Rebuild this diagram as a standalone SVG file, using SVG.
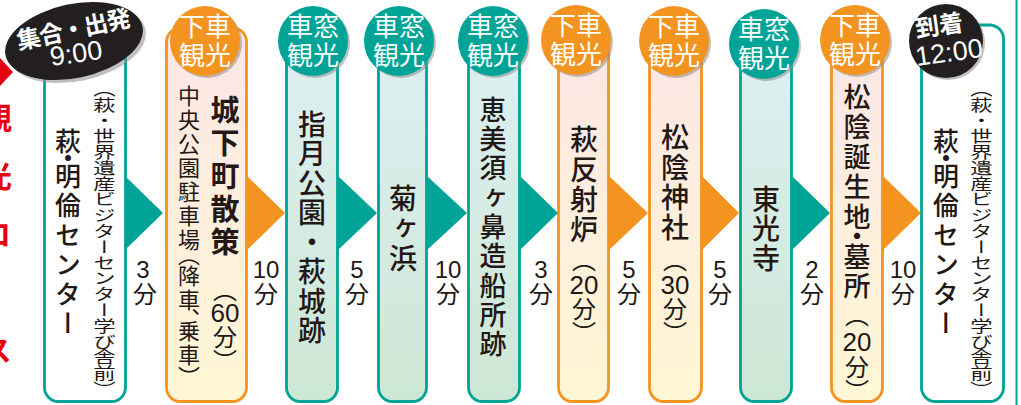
<svg xmlns="http://www.w3.org/2000/svg" width="1021" height="405" viewBox="0 0 1021 405">
<defs>
<linearGradient id="gO" x1="0" y1="0" x2="0" y2="1">
<stop offset="0" stop-color="#fce6e6"/><stop offset="1" stop-color="#fff7d4"/>
</linearGradient>
<linearGradient id="gT" x1="0" y1="0" x2="0" y2="1">
<stop offset="0" stop-color="#ddf0f3"/><stop offset="1" stop-color="#cde7d5"/>
</linearGradient>
</defs>
<style>
.t{font-family:'Noto Sans CJK JP','Noto Sans CJK SC',sans-serif;fill:#231815}
.n{font-family:'Liberation Sans','Noto Sans CJK JP',sans-serif;fill:#231815}
.v{writing-mode:vertical-rl}
.w{fill:#fff}
.b{font-weight:700}
.m{font-weight:500}
.colT{stroke:#00a497;stroke-width:2.8}
.colO{stroke:#f39420;stroke-width:2.8}
.sh{fill:#8c8c8c;opacity:.55}
.cT{fill:#00a497}
.cO{fill:#f39420}
.ct{font-size:26px;text-anchor:middle}
.lab{font-size:24px;text-anchor:middle}
.aT{fill:#00a497}
.aO{fill:#f39420}
</style>

<g id="title-edge">
<polygon points="-10,58 0,58 13,72 0,86 -10,86" fill="#e60012"/>
<text class="t v b" x="-3" y="103" style="font-size:30px;letter-spacing:28px;fill:#e60012">観光コース</text>
<line x1="1016.5" y1="0" x2="1016.5" y2="405" stroke="#00a497" stroke-width="2"/>
</g>

<g id="n1-start">
<rect class="colT" x="44.5" y="30" width="81" height="371.5" rx="14" fill="#fff"/>
<ellipse cx="77" cy="44" rx="70" ry="37" transform="rotate(-12 77 44)" class="sh"/>
<ellipse cx="74" cy="41" rx="70" ry="37" transform="rotate(-12 74 41)" fill="#231f20"/>
<text class="t w b" transform="translate(73,29) rotate(-12)" x="0" y="9" text-anchor="middle" style="font-size:24px;letter-spacing:-1px">集合・出発</text>
<text class="n w" transform="translate(76,53) rotate(-8)" x="0" y="9.5" text-anchor="middle" style="font-size:27px">9:00</text>
<text class="t v m" x="68" style="font-size:26px"><tspan y="128">萩</tspan><tspan y="145">・</tspan><tspan y="163" letter-spacing="3.5">明倫センター</tspan></text>
<text class="t v" transform="translate(104.5,81) scale(1.42,1)" x="0" y="0" style="font-size:15.8px">（萩・世界遺産ビジターセンター学び舎前）</text>
</g>

<g id="n2-jokamachi">
<rect class="colO" x="166.5" y="28" width="80" height="373.5" rx="14" fill="url(#gO)"/>
<circle class="sh" cx="207" cy="43" r="35"/>
<circle class="cO" cx="205" cy="41" r="35"/>
<text class="t w ct" x="205" y="36">下車</text>
<text class="t w ct" x="205" y="65">観光</text>
<text class="t v" x="189" style="font-size:22px"><tspan y="85" letter-spacing="2">中央公園駐車場</tspan><tspan y="244">（</tspan><tspan y="265" letter-spacing="2">降車</tspan><tspan y="308">、</tspan><tspan y="320" letter-spacing="2">乗車</tspan><tspan y="366">）</tspan></text>
<text class="t v b" x="225" y="95" style="font-size:29px;letter-spacing:4px">城下町散策</text>
<text class="t v" x="225" y="278" style="font-size:24px">（</text>
<text class="n" x="225" y="322" text-anchor="middle" style="font-size:26px">60</text>
<text class="t v" x="225" y="325" style="font-size:24px">分）</text>
</g>

<g id="n3-shizuki">
<rect class="colT" x="286.5" y="30" width="51" height="371.5" rx="14" fill="url(#gT)"/>
<circle class="sh" cx="315" cy="43" r="35"/>
<circle class="cT" cx="313" cy="41" r="35"/>
<text class="t w ct" x="313" y="36">車窓</text>
<text class="t w ct" x="313" y="65">観光</text>
<text class="t v m" x="312" y="110" style="font-size:28px;letter-spacing:1.5px">指月公園・萩城跡</text>
</g>

<g id="n4-kikugahama">
<rect class="colT" x="378.5" y="30" width="48" height="371.5" rx="14" fill="url(#gT)"/>
<circle class="sh" cx="401" cy="43" r="35"/>
<circle class="cT" cx="399" cy="41" r="35"/>
<text class="t w ct" x="399" y="36">車窓</text>
<text class="t w ct" x="399" y="65">観光</text>
<text class="t v m" x="403" y="184" style="font-size:28px;letter-spacing:2px">菊ヶ浜</text>
</g>

<g id="n5-ebisugahana">
<rect class="colT" x="468.5" y="30" width="51" height="371.5" rx="14" fill="url(#gT)"/>
<circle class="sh" cx="495" cy="43" r="35"/>
<circle class="cT" cx="493" cy="41" r="35"/>
<text class="t w ct" x="493" y="36">車窓</text>
<text class="t w ct" x="493" y="65">観光</text>
<text class="t v m" x="493" y="96" style="font-size:27px;letter-spacing:2.3px">恵美須ヶ鼻造船所跡</text>
</g>

<g id="n6-hansharo">
<rect class="colO" x="558.5" y="30" width="50" height="371.5" rx="14" fill="url(#gO)"/>
<circle class="sh" cx="578" cy="42" r="35"/>
<circle class="cO" cx="576" cy="40" r="35"/>
<text class="t w ct" x="576" y="35">下車</text>
<text class="t w ct" x="576" y="64">観光</text>
<text class="t v m" x="584" y="125" style="font-size:28px;letter-spacing:2px">萩反射炉</text>
<text class="t v" x="584" y="248" style="font-size:24px">（</text>
<text class="n" x="584" y="294" text-anchor="middle" style="font-size:26px">20</text>
<text class="t v" x="584" y="297" style="font-size:24px">分）</text>
</g>

<g id="n7-shoin-jinja">
<rect class="colO" x="649.5" y="30" width="52" height="371.5" rx="14" fill="url(#gO)"/>
<circle class="sh" cx="676" cy="43" r="35"/>
<circle class="cO" cx="674" cy="41" r="35"/>
<text class="t w ct" x="674" y="36">下車</text>
<text class="t w ct" x="674" y="65">観光</text>
<text class="t v m" x="675" y="123" style="font-size:28px;letter-spacing:2px">松陰神社</text>
<text class="t v" x="675" y="248" style="font-size:24px">（</text>
<text class="n" x="675" y="294" text-anchor="middle" style="font-size:26px">30</text>
<text class="t v" x="675" y="297" style="font-size:24px">分）</text>
</g>

<g id="n8-tokoji">
<rect class="colT" x="740.5" y="30" width="51" height="371.5" rx="14" fill="url(#gT)"/>
<circle class="sh" cx="766" cy="46" r="35"/>
<circle class="cT" cx="764" cy="44" r="35"/>
<text class="t w ct" x="764" y="39">車窓</text>
<text class="t w ct" x="764" y="68">観光</text>
<text class="t v m" x="766" y="185" style="font-size:28px;letter-spacing:1.5px">東光寺</text>
</g>

<g id="n9-tanjochi">
<rect class="colO" x="831.5" y="30" width="51" height="371.5" rx="14" fill="url(#gO)"/>
<circle class="sh" cx="857" cy="42" r="35"/>
<circle class="cO" cx="855" cy="40" r="35"/>
<text class="t w ct" x="855" y="35">下車</text>
<text class="t w ct" x="855" y="64">観光</text>
<text class="t v m" x="857" style="font-size:27px"><tspan y="83" letter-spacing="3">松陰誕生地</tspan><tspan y="222">・</tspan><tspan y="243" letter-spacing="2">墓所</tspan></text>
<text class="t v" x="857" y="303" style="font-size:24px">（</text>
<text class="n" x="857" y="351" text-anchor="middle" style="font-size:26px">20</text>
<text class="t v" x="857" y="355" style="font-size:24px">分）</text>
</g>

<g id="n10-goal">
<rect class="colT" x="921.5" y="25" width="82" height="376.5" rx="14" fill="#fff"/>
<circle class="sh" cx="948" cy="43" r="37"/>
<circle cx="946" cy="41" r="37" fill="#231f20"/>
<text class="t w b" transform="translate(939,25) rotate(-8)" x="0" y="9" text-anchor="middle" style="font-size:24px">到着</text>
<text class="n w" transform="translate(949,52) rotate(-8)" x="0" y="9.5" text-anchor="middle" style="font-size:27px">12:00</text>
<text class="t v m" x="946" style="font-size:26px"><tspan y="128">萩</tspan><tspan y="145">・</tspan><tspan y="163" letter-spacing="3.5">明倫センター</tspan></text>
<text class="t v" transform="translate(981.5,81) scale(1.42,1)" x="0" y="0" style="font-size:15.8px">（萩・世界遺産ビジターセンター学び舎前）</text>
</g>

<g id="connectors">
<polygon class="aT" points="125,176 163,213 125,250"/>
<polygon class="aO" points="247,176 285,213 247,250"/>
<polygon class="aT" points="338,176 377,213 338,250"/>
<polygon class="aT" points="427,176 467,213 427,250"/>
<polygon class="aT" points="520,176 558,213 520,250"/>
<polygon class="aO" points="609,176 648,213 609,250"/>
<polygon class="aO" points="702,176 739,213 702,250"/>
<polygon class="aT" points="792,176 830,213 792,250"/>
<polygon class="aO" points="883,176 921,213 883,250"/>
<text class="n lab" x="143" y="278">3<tspan x="145" y="303">分</tspan></text>
<text class="n lab" x="266" y="278">10<tspan x="266" y="303">分</tspan></text>
<text class="n lab" x="357" y="278">5<tspan x="357" y="303">分</tspan></text>
<text class="n lab" x="448" y="278">10<tspan x="448" y="303">分</tspan></text>
<text class="n lab" x="541" y="278">3<tspan x="541" y="303">分</tspan></text>
<text class="n lab" x="629" y="278">5<tspan x="629" y="303">分</tspan></text>
<text class="n lab" x="720" y="278">5<tspan x="720" y="303">分</tspan></text>
<text class="n lab" x="812" y="278">2<tspan x="812" y="303">分</tspan></text>
<text class="n lab" x="903" y="278">10<tspan x="903" y="303">分</tspan></text>
</g>
</svg>
